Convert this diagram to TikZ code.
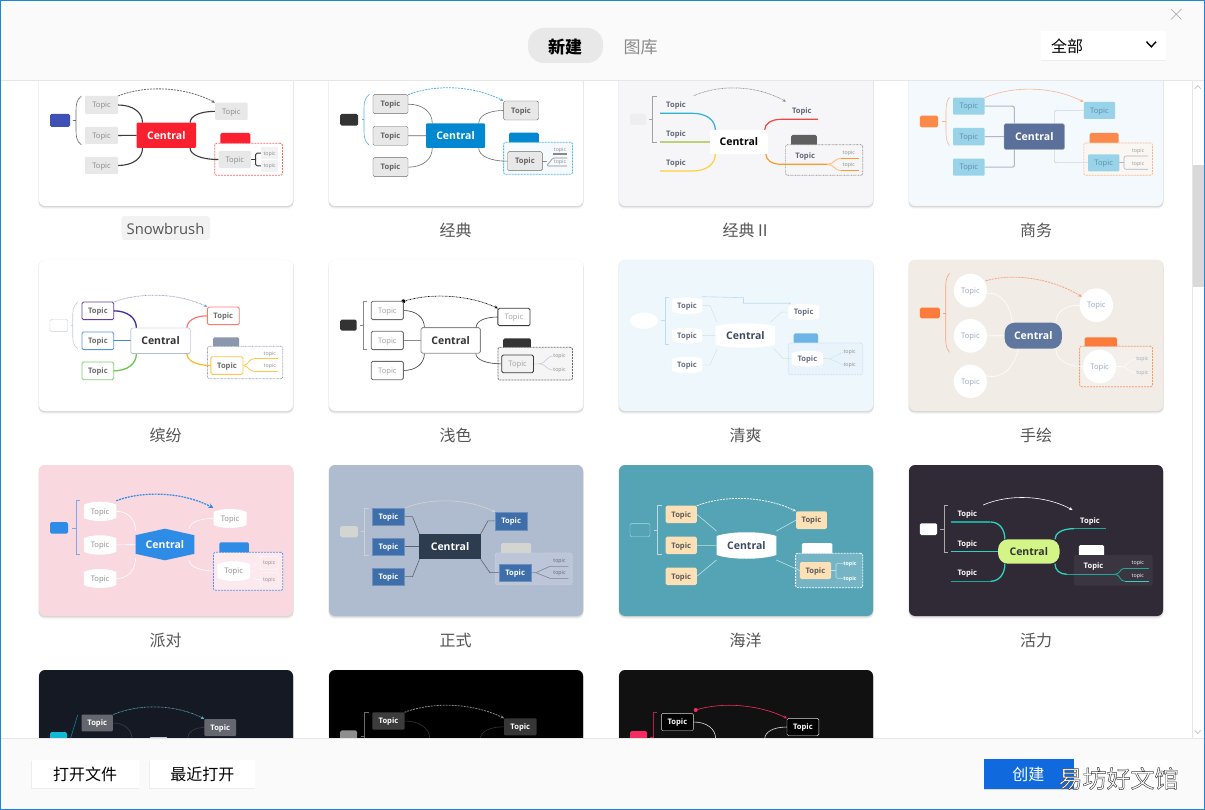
\documentclass[tikz,border=0pt]{standalone}
\usepackage{fontspec}
\setmainfont{Open Sans}
\newfontfamily\cjk{Noto Sans CJK SC}
\newfontfamily\wmfont[FakeBold=2]{Noto Sans CJK SC}
\usetikzlibrary{calc,arrows.meta,shapes.geometric}
\pgfdeclarelayer{card}\pgfdeclarelayer{conn}\pgfdeclarelayer{chrome}
\pgfsetlayers{card,conn,main,chrome}
\newcommand\dc[2]{\definecolor{#1}{HTML}{#2}}
\dc{F6F6F8}{F6F6F8}\dc{5F5F5F}{5F5F5F}\dc{FAF6F2}{FAF6F2}\dc{F5F5F5}{F5F5F5}\dc{F79A66}{F79A66}\dc{6F8FBD}{6F8FBD}\dc{EEEEEE}{EEEEEE}\dc{F2F2F2}{F2F2F2}
\dc{win}{1E86D6}\dc{chr}{FAFAFA}\dc{rule}{E6E6E6}\dc{lbl}{555555}
\dc{red}{FB2030}\dc{ind}{3F51B5}\dc{gE}{E8E8E8}\dc{g8}{8A8A8A}\dc{dk}{333333}\dc{g3}{3A3A3A}
\dc{blu}{0288D1}\dc{lbl2}{55B0E8}\dc{g6}{6B6B6B}\dc{pale}{F5FAFF}
\dc{tx}{5F6678}\dc{teal}{2AB3D6}\dc{oli}{BCD07A}\dc{yel}{FFCD3E}\dc{rd2}{EE4545}\dc{org}{FD9A2A}\dc{lorg}{FDC383}
\dc{oc}{FB8A4A}\dc{ol}{F9B48F}\dc{sky}{98D3EA}\dc{nav}{5A6F9A}\dc{gb}{ADB7CA}\dc{bgd}{F4F9FD}\dc{skt}{5E8CA8}
\dc{pur}{5E3FA8}\dc{pu2}{3D2FA0}\dc{bl2}{5C94E0}\dc{bl3}{3F86E0}\dc{grn}{7FD16F}\dc{gr2}{6CC54F}\dc{sal}{FA7A70}\dc{yl2}{FFC64A}\dc{yl3}{FFB829}\dc{sl}{8D9BB5}\dc{sl2}{8A97AD}\dc{lg}{C5CCD8}
\dc{bgf}{EEF7FB}\dc{fb}{BCDCF0}\dc{fc}{CFE1E8}\dc{ftx}{666E80}\dc{fct}{3D4A63}\dc{fl}{6CB5E6}\dc{fbd}{E9F3FB}\dc{fbl}{CBE2F3}
\dc{bgh}{F1ECE6}\dc{ho}{FB7B3C}\dc{hl}{F9A27A}\dc{hn}{5F769F}\dc{htx}{9AA8C0}\dc{hb}{F4EFEA}
\dc{bgp}{F9D8DF}\dc{pb}{2E8BE6}\dc{pbl}{7EA6E8}\dc{ptx}{8C8C8C}\dc{pbd}{FBE9EE}\dc{pdash}{5B93E4}
\dc{bgj}{AFBBCE}\dc{jsd}{D3D5D1}\dc{jbr}{CCD2D8}\dc{jt}{3E6FAB}\dc{jc}{2E3C4F}\dc{jbd}{BCC6D8}\dc{jd}{C8D0DC}\dc{jl}{5A6475}\dc{jl2}{7A8596}
\dc{bgk}{54A4B6}\dc{kb}{B8DBE3}\dc{kt}{FDE0B5}\dc{ktx}{5A5A5A}\dc{kbd}{74B4C4}\dc{kl}{C5E0E6}
\dc{bgl}{302A36}\dc{lg2}{AAAAAA}\dc{lt}{2FD4BD}\dc{lt2}{1FA897}\dc{lime}{D3F587}\dc{lbd}{3A3540}
\dc{bgm}{151924}\dc{mt}{65676F}\dc{mc}{3A3E4A}\dc{mb}{0FB8D4}\dc{mtl}{127F96}\dc{mr}{5FB0C0}
\dc{n3}{3C3C3C}\dc{n2}{363636}\dc{n8}{8E8E8E}\dc{nl}{333333}
\dc{bgo}{111111}\dc{pink}{F72B62}\dc{pk2}{B0234F}\dc{ol2}{DDDDDD}
\dc{btn}{1169DE}\dc{pill}{E8E8E8}\dc{thumb}{D9D9D9}\dc{ss}{F2F2F2}\dc{arrowc}{BBBBBB}

\newcommand\ftp{\fontsize{7.6}{8}\selectfont}
\newcommand\ftb{\fontsize{7.6}{8}\selectfont\bfseries}
\newcommand\fsb{\fontsize{5.3}{6}\selectfont}
\newcommand\fct{\fontsize{10.5}{12}\selectfont\bfseries}
\newcommand\flb{\fontsize{16}{18}\selectfont\cjk}

\tikzset{
  tp/.style={inner sep=0,outer sep=0,font=\ftp,text height=6pt,text depth=.6pt},
  tb/.style={inner sep=0,outer sep=0,font=\ftb,text height=6pt,text depth=.6pt},
  sb/.style={inner sep=0,outer sep=0,font=\fsb,text height=4.2pt,text depth=.4pt},
  ctr/.style={inner sep=0,outer sep=0,font=\fct},
  dsh/.style={dash pattern=on 2pt off 1pt,line width=.8pt},
  dtt/.style={dash pattern=on .7pt off .7pt,line width=.7pt},
  arw/.style={-{Stealth[length=3.5pt,width=3pt]}},
  lbltxt/.style={inner sep=0,font=\flb,text=lbl},
  chbtn/.style={fill=white,inner sep=0},
}
% box from corners
\newcommand\Bx[7]{\node[#1,inner sep=0,outer sep=0,minimum width={(#5-#3)*1pt},minimum height={(#6-#4)*1pt}] (#2) at ({(#3+#5)/2},{(#4+#6)/2}) {#7};}
% barrel-shaped box
\newcommand\Barrel[8]{%
  \path[fill=#7] ({#3},{#4+#8}) .. controls ({#3*.75+#5*.25},#4) and ({#3*.25+#5*.75},#4) .. ({#5},{#4+#8})
     -- ({#5},{#6-#8}) .. controls ({#3*.25+#5*.75},#6) and ({#3*.75+#5*.25},#6) .. ({#3},{#6-#8}) -- cycle;
  \Bx{#1}{#2}{#3}{#4}{#5}{#6}}
% hexagon-shaped box
\newcommand\Hexa[8]{%
  \path[fill=#7] ({#3},{#4+#8}) -- ({(#3+#5)/2},#4) -- ({#5},{#4+#8}) -- ({#5},{#6-#8}) -- ({(#3+#5)/2},#6) -- ({#3},{#6-#8}) -- cycle;
  \Bx{#1}{#2}{#3}{#4}{#5}{#6}}
\newcommand\hvc[2]{(#1) .. controls ($(#1)!.6!(#1 -| #2)$) and ($(#2)!.6!(#2 |- #1)$) .. (#2)}
\newcommand\scv[2]{(#1) .. controls ($(#1)!.5!(#1 -| #2)$) and ($(#2)!.5!(#2 -| #1)$) .. (#2)}
\newcommand\Rel[4]{\draw[#1] (#2) .. controls ($(#2)!.3!(#3)+(0,-#4)$) and ($(#2)!.7!(#3)+(0,-#4)$) .. (#3);}
% square bracket: style,x,xend,ytop,ybot,xtick,ymid
\newcommand\SqBr[7]{\draw[#1] (#3,#4) -- (#2,#4) -- (#2,#5) -- (#3,#5); \draw[#1] (#6,#7) -- (#2,#7);}
% round bracket
\newcommand\PaBr[7]{\draw[#1] (#3,#4) .. controls (#2,{#4+4}) and (#2,{#4+10}) .. (#2,{#4+16}) -- (#2,{#5-16}) .. controls (#2,{#5-10}) and (#2,{#5-4}) .. (#3,#5); \draw[#1] (#6,#7) -- (#2,#7);}
% card background with soft shadow
\newcommand\CardBg[4]{%
  \foreach \sh/\op in {3/.03,2/.05,1/.08}{\path[fill=black,opacity=\op,rounded corners=6pt] ({#1-.5},{#2+\sh-1}) rectangle ({#1+254.5},{#2+151+\sh});}
  \node[fill=#3,inner sep=0,outer sep=0,rounded corners=6pt,minimum width=254pt,minimum height=151pt] (#4) at ({#1+127},{#2+75.5}) {};}

\begin{document}
\begin{tikzpicture}[x=1pt,y=-1pt]
\useasboundingbox (0,0) rectangle (1205,810);
\begin{pgfonlayer}{card}
\fill[white] (0,0) rectangle (1205,810);
\CardBg{39}{55}{white}{ca}\CardBg{329}{55}{white}{cb}\CardBg{619}{55}{F6F6F8}{cc}\CardBg{909}{55}{bgd}{cd}
\CardBg{39}{260}{white}{ce}\CardBg{329}{260}{white}{cf}\CardBg{619}{260}{bgf}{cg}\CardBg{909}{260}{bgh}{ch}
\CardBg{39}{465}{bgp}{ci}\CardBg{329}{465}{bgj}{cj}\CardBg{619}{465}{bgk}{ck}\CardBg{909}{465}{bgl}{cl}
\CardBg{39}{670}{bgm}{cm}\CardBg{329}{670}{black}{cn}\CardBg{619}{670}{bgo}{co}
% flags and boundaries
\Bx{fill=red,rounded corners=1.5pt}{af}{220.4}{133}{250.3}{146}{}
\Bx{fill=white,draw=red!70,dsh,rounded corners=2pt}{ab}{214.7}{143.3}{282.4}{175.3}{}
\Bx{fill=blu,rounded corners=1.5pt}{bf}{509}{132.7}{538.8}{146}{}
\Bx{fill=pale,draw=lbl2,dsh,rounded corners=2pt}{bb}{503.6}{142.3}{572.5}{174.3}{}
\Bx{fill=5F5F5F,rounded corners=1.5pt}{xcf}{791}{135}{816.8}{148}{}
\Bx{fill=F6F6F8,draw=g8,dtt,rounded corners=2pt}{xcb}{785.6}{144.7}{862.7}{175.3}{}
\Bx{fill=oc,rounded corners=1.5pt}{df}{1089.6}{133}{1118.5}{146}{}
\Bx{fill=FAF6F2,draw=ol,dsh,semithick,rounded corners=2pt}{db}{1083.8}{143}{1152.5}{175.3}{}
\Bx{fill=sl2,rounded corners=1.5pt}{ef}{213}{337.3}{239.2}{350}{}
\Bx{fill=white,draw=sl,dtt,rounded corners=2pt}{eb}{207.4}{346.3}{282.8}{378.7}{}
\Bx{fill=dk,rounded corners=1.5pt}{ff}{503.2}{338.3}{530.8}{351}{}
\Bx{fill=F5F5F5,draw=g6,dsh,rounded corners=2pt}{fb}{497.9}{347.3}{572.5}{380}{}
\Bx{fill=fl,rounded corners=1.5pt}{gf}{793.7}{333.3}{818}{346}{}
\Bx{fill=fbd,draw=fbl,dsh,rounded corners=2pt}{gb}{788.3}{343}{862.7}{374.7}{}
\Bx{fill=ho,rounded corners=1.5pt}{hf}{1084.6}{337.3}{1117}{350}{}
\Bx{fill=hb,draw=F79A66,dsh,rounded corners=2pt}{hb2}{1079.6}{346.3}{1152.5}{386.7}{}
\Bx{fill=pb,rounded corners=1.5pt}{if}{219.3}{542.3}{248.8}{556}{}
\Bx{fill=pbd,draw=pdash,dsh,rounded corners=2pt}{ib}{213.5}{552.3}{282.8}{590.3}{}
\Bx{fill=jsd,rounded corners=1.5pt}{jf}{501}{543}{531.2}{556}{}
\Bx{fill=jbd,draw=jd,dsh,rounded corners=2pt}{jb}{495.2}{553}{572.1}{584.7}{}
\Bx{fill=white,rounded corners=1.5pt}{kf}{801.8}{543}{832.3}{556}{}
\Bx{fill=kbd,draw=white,dsh,rounded corners=2pt}{kb2}{795.6}{553.3}{862.7}{587.7}{}
\Bx{fill=white,rounded corners=1.5pt}{lf}{1078.8}{545}{1104.2}{557}{}
\Bx{fill=lbd,rounded corners=2pt}{lb2}{1073.8}{555}{1152.5}{585.7}{}
\end{pgfonlayer}

% ---------- Snowbrush
\begin{scope}[T/.style={tp,fill=gE,text=g8,rounded corners=1pt}]
\Bx{fill=ind,rounded corners=1.5pt}{as}{50}{114}{70}{127}{}
\Bx{T}{a1}{85}{96}{118}{114}{Topic}\Bx{T}{a2}{85}{127}{118}{144}{Topic}\Bx{T}{a3}{85}{157}{118}{174}{Topic}
\Bx{ctr,fill=red,text=white,rounded corners=1pt}{ac}{136.6}{122.7}{196}{148}{Central}
\Bx{T}{ar}{215}{102.7}{247.6}{120}{Topic}\Bx{T}{aq}{218.5}{151}{251}{168}{Topic}
\Bx{sb,fill=ss,text=g8}{au}{261.4}{147}{277.8}{159.3}{topic}\Bx{sb,fill=ss,text=g8}{av}{261.4}{160}{277.8}{171.7}{topic}
\coordinate (aj) at (255.6,159.5);
\begin{pgfonlayer}{conn}
\PaBr{g6,semithick}{76}{81.5}{96}{145}{72.5}{120.5}
\draw[g3,line width=1.1pt] \hvc{a1.east}{ac.152}; \draw[g3,line width=1.1pt] (a2)--(ac); \draw[g3,line width=1.1pt] \hvc{a3.east}{ac.208};
\draw[g3,line width=1.1pt] \hvc{ar.west}{ac.28}; \draw[g3,line width=1.1pt] \hvc{aq.west}{ac.332};
\draw[g3,line width=.9pt] (aq.east)--(aj); \draw[g3,line width=.9pt,rounded corners=1.5pt] (au.west) -| (aj) |- (av.west);
\Rel{g6,dsh,arw}{a1.north east}{ar.north west}{13.5}
\end{pgfonlayer}
\end{scope}

% ---------- Classic
\begin{scope}[T/.style={tb,fill=gE,draw=g6,text=g3!80,rounded corners=1.5pt}]
\Bx{fill=dk,rounded corners=1.5pt}{bs}{340.2}{114}{358.2}{125.7}{}
\Bx{T}{b1}{373}{94.7}{408}{113.7}{Topic}\Bx{T}{b2}{373}{126.3}{408}{145.3}{Topic}\Bx{T}{b3}{373}{157.7}{408}{176.7}{Topic}
\Bx{ctr,fill=blu,text=white,rounded corners=1pt}{bc}{426}{123.3}{485}{148}{Central}
\Bx{T}{br}{503.6}{101}{538.5}{120}{Topic}\Bx{T}{bq}{507.5}{151.7}{542.3}{170.7}{Topic}
\Bx{sb,text=g8}{bu}{553}{146}{567}{154}{topic}\Bx{sb,text=g8}{bv}{553}{158}{567}{166}{topic}
\coordinate (bj) at (546.5,161.2);
\begin{pgfonlayer}{conn}
\PaBr{lbl2,semithick}{364}{369.3}{94.3}{145.3}{362}{119.8}
\draw[g6,semithick] \hvc{b1.east}{bc.152}; \draw[g6,semithick] (b2)--(bc); \draw[g6,semithick] \hvc{b3.east}{bc.208};
\draw[g6,semithick] \hvc{br.west}{bc.28}; \draw[g6,semithick] \hvc{bq.west}{bc.332};
\draw[g8,line width=1.1pt] (bq.east)--(bj); \draw[g8,line width=1.1pt] (bu.south west)--(bu.south east);
\draw[g8,semithick,rounded corners=1.5pt] (bv.north east) -- (bv.north west) -- (bj |- bv.south) -- (bv.south east);
\Rel{lbl2,dsh,arw}{b1.north east}{br.north west}{13}
\end{pgfonlayer}
\end{scope}

% ---------- Classic II
\begin{scope}[T/.style={tb,text=tx}]
\Bx{fill=EEEEEE,rounded corners=1.5pt}{xs}{630}{114}{646}{125}{}
\node[T] (x1) at (676,104.7) {Topic}; \node[T] (x2) at (676,133.7) {Topic}; \node[T] (x3) at (676,162.7) {Topic};
\Bx{ctr,fill=white,text=black,rounded corners=1pt}{xc}{710}{130}{767.8}{154}{Central}
\node[T] (xr) at (801.8,110.7) {Topic}; \node[T] (xq) at (805.2,155.7) {Topic};
\node[sb,text=g8] (xu) at (848.8,153) {topic}; \node[sb,text=g8] (xv) at (848.8,165) {topic};
\coordinate (xa1) at (660,113.3);\coordinate (xb1) at (692.6,113.3);
\coordinate (xa2) at (660,142);\coordinate (xa3) at (660,171);\coordinate (xb3) at (692.6,171);
\coordinate (xe1) at (818,119.3);\coordinate (xd1) at (781.3,119.3);
\coordinate (xd2) at (781,164.3);\coordinate (xe2) at (827.6,164.3);
\coordinate (xf1) at (841,158.3);\coordinate (xg1) at (858.5,158.3);\coordinate (xf2) at (841,170.7);\coordinate (xg2) at (858.5,170.7);
\coordinate (xrel1) at (693.8,95.7);\coordinate (xrel2) at (786,101.7);
\begin{pgfonlayer}{conn}
\SqBr{g8!80,semithick}{652}{656.7}{96}{142.7}{649.4}{119.5}
\draw[teal,line width=1.2pt] (xa1)--\hvc{xb1}{xc.153};
\draw[oli,line width=1.2pt] (xa2)--(xc.west |- xa2);
\draw[yel,line width=1.2pt] (xa3)--\hvc{xb3}{xc.207};
\draw[rd2,line width=1.2pt] (xe1)--\hvc{xd1}{xc.25};
\draw[org,line width=1.2pt] (xe2)--\hvc{xd2}{xc.336};
\draw[lorg,line width=1pt] \scv{xe2}{xf1}; \draw[lorg,line width=1pt] \scv{xe2}{xf2};
\draw[org] (xf1)--(xg1); \draw[org] (xf2)--(xg2);
\Rel{g8,dtt,arw}{xrel1}{xrel2}{14}
\end{pgfonlayer}
\end{scope}

% ---------- Business
\begin{scope}[T/.style={tp,fill=sky,text=skt,rounded corners=1pt}]
\Bx{fill=oc,rounded corners=1.5pt}{ds}{919.8}{115.7}{938}{127.3}{}
\Bx{T}{d1}{953}{97.7}{984.6}{114.7}{Topic}\Bx{T}{d2}{953}{128}{984.6}{145.3}{Topic}\Bx{T}{d3}{953}{158.7}{984.6}{175.7}{Topic}
\Bx{ctr,fill=nav,draw=gb,text=white,rounded corners=1.5pt}{dc}{1004}{123.7}{1064.5}{149.7}{Central}
\Bx{T}{dr}{1083.8}{102}{1115}{119}{Topic}\Bx{T}{dq}{1088}{154.3}{1119.3}{171.3}{Topic}
\node[sb,text=g8!90] (du) at (1138.2,150.7) {topic}; \node[sb,text=g8!90] (dv) at (1138.2,164) {topic};
\coordinate (dj1) at (1014.4,123.7);\coordinate (dj2) at (1014.4,149.7);\coordinate (dj3) at (1054.5,123.7);\coordinate (dj4) at (1054.5,149.7);
\coordinate (dk1) at (1124,162.8);\coordinate (dk2) at (1148,156);\coordinate (dk3) at (1148,169.3);
\begin{pgfonlayer}{conn}
\PaBr{ol,semithick}{946}{949.5}{97.3}{145.7}{941.8}{121.5}
\draw[gb,line width=1.1pt,rounded corners=2pt] (d1.east) -| (dj1);
\draw[gb,line width=1.1pt] (d2)--(dc);
\draw[gb,line width=1.1pt,rounded corners=2pt] (d3.east) -| (dj2);
\draw[gb,rounded corners=2pt] (dr.west) -| (dj3);
\draw[gb,rounded corners=2pt] (dq.west) -| (dj4);
\draw[gb,semithick] (dq.east)--(dk1);
\draw[gb,semithick,rounded corners=2pt] (dk2) -| (dk1) |- (dk3);
\Rel{ol,semithick,arw}{d1.north east}{dr.north west}{14}
\end{pgfonlayer}
\end{scope}

% ---------- Colourful
\begin{scope}[T/.style={tb,fill=white,text=g6,line width=.9pt,rounded corners=1.5pt}]
\Bx{fill=white,draw=lg,rounded corners=1.5pt}{es}{50}{319.3}{67.7}{331.7}{}
\Bx{T,draw=pur}{e1}{82}{302}{113.7}{319.7}{Topic}\Bx{T,draw=bl2}{e2}{82}{332}{113.7}{349.7}{Topic}\Bx{T,draw=grn}{e3}{82}{362}{113.7}{379.7}{Topic}
\Bx{ctr,fill=white,draw=sl,text=dk,rounded corners=1.5pt}{ec}{130.9}{328}{190.2}{353.7}{Central}
\Bx{T,draw=sal}{er}{207.4}{307}{239.2}{324.7}{Topic}\Bx{T,draw=yl2}{eq}{210.9}{356.7}{243}{374.3}{Topic}
\node[sb,text=g8] (eu) at (269.8,354) {topic}; \node[sb,text=g8] (ev) at (269.8,366) {topic};
\coordinate (ef1) at (254,358.7);\coordinate (eg1) at (278,358.7);\coordinate (ef2) at (254,371.3);\coordinate (eg2) at (278,371.3);
\begin{pgfonlayer}{conn}
\PaBr{lg,semithick}{72.7}{78}{301.7}{349.3}{70.8}{325.5}
\draw[pu2,line width=1.3pt] \hvc{e1.east}{ec.152}; \draw[bl3,line width=1.1pt] (e2)--(ec); \draw[gr2,line width=1.3pt] \hvc{e3.east}{ec.208};
\draw[sal,line width=1.2pt] \hvc{er.west}{ec.26}; \draw[yl3,line width=1.2pt] \hvc{eq.west}{ec.334};
\draw[yl2,line width=.8pt] \scv{eq.east}{ef1}; \draw[yl2,line width=.8pt] \scv{eq.east}{ef2}; \draw[yl2,line width=1pt] (ef1)--(eg1); \draw[yl2,line width=1pt] (ef2)--(eg2);
\Rel{sl,dtt,arw}{e1.north east}{er.north west}{12}
\end{pgfonlayer}
\end{scope}

% ---------- Light
\begin{scope}[T/.style={tp,fill=white,text=g8!80,draw=g6,line width=.9pt,rounded corners=1.5pt}]
\Bx{fill=dk,rounded corners=1.5pt}{fs}{340.2}{319.7}{356.7}{330.7}{}
\Bx{T}{f1}{371.2}{301.3}{403.4}{319.7}{Topic}\Bx{T}{f2}{371.2}{331.3}{403.4}{349.7}{Topic}\Bx{T}{f3}{371.2}{361.3}{403.4}{379.7}{Topic}
\Bx{ctr,fill=white,draw=g8,text=dk,line width=.9pt,rounded corners=1.5pt}{fc}{421}{327.7}{480.3}{353.3}{Central}
\Bx{T,draw=g3}{fr}{497.9}{308.3}{530}{325.7}{Topic}\Bx{T,draw=g3,fill=F2F2F2}{fq}{501.7}{355}{533.5}{372.7}{Topic}
\node[sb,text=g8] (fu) at (559.5,356) {topic}; \node[sb,text=g8] (fv) at (559.5,370) {topic};
\coordinate (fj) at (538.8,363.8);
\begin{pgfonlayer}{conn}
\SqBr{g8,semithick}{363.6}{367.4}{301}{349.3}{360}{325.2}
\draw[g3,semithick] \hvc{f1.east}{fc.154}; \draw[g8,line width=1.1pt] (f2)--(fc); \draw[g3,semithick] \hvc{f3.east}{fc.206};
\draw[g3,semithick] \hvc{fr.west}{fc.27}; \draw[g3,semithick] \hvc{fq.west}{fc.333};
\draw[lg,semithick] (fq.east)--(fj); \draw[lg,semithick] \scv{fj}{fu.west}; \draw[lg,semithick] \scv{fj}{fv.west};
\fill[black] (f1.north east) circle (2);
\Rel{black,dtt,arw}{f1.north east}{fr.north west}{11}
\end{pgfonlayer}
\end{scope}

% ---------- Fresh
\begin{scope}[T/.style={tb,text=ftx}]
\node[ellipse,fill=white,inner sep=0,minimum width=28pt,minimum height=16pt] (gs) at (644,320.7) {};
\Barrel{T}{g1}{671.8}{296.7}{702.2}{314.7}{white}{3}{Topic}
\Barrel{T}{g2}{671.8}{327}{702.2}{344.3}{white}{3}{Topic}
\Barrel{T}{g3n}{671.8}{356}{702.2}{374}{white}{3}{Topic}
\Barrel{ctr,text=fct}{gc}{715.7}{322.3}{775.2}{348.7}{white}{4}{Central}
\Barrel{T}{gr}{788.3}{303.3}{819}{321}{white}{3}{Topic}
\Barrel{T}{gq}{791.7}{350}{823}{367.3}{white}{3}{Topic}
\node[sb,text=g8] (gu) at (849.6,352) {topic}; \node[sb,text=g8] (gv) at (849.6,365) {topic};
\coordinate (gk1) at (710,305.7);\coordinate (gk3) at (710,365);\coordinate (gk4) at (781.3,312.2);\coordinate (gk5) at (783.3,358.7);\coordinate (gk6) at (829.6,358.7);
\coordinate (gm1) at (743.5,297.7);\coordinate (gm2) at (743.5,303.3);\coordinate (gm3) at (791,303.3);
\begin{pgfonlayer}{conn}
\SqBr{fb,semithick}{664.8}{668.7}{297}{344.3}{661}{320.7}
\draw[fc] (g1.east)--(gk1)--(gc.155); \draw[fc] (g2)--(gc); \draw[fc] (g3n.east)--(gk3)--(gc.205);
\draw[fc] (gr.west)--(gk4)--(gc.28); \draw[fc] (gq.west)--(gk5)--(gc.335);
\draw[fc] (gq.east)--(gk6)--(gu.west); \draw[fc] (gk6)--(gv.west);
\draw[fb,semithick,-{Stealth[length=2.5pt,width=2.5pt]}] (g1.north east)--(gm1)--(gm2)--(gm3);
\end{pgfonlayer}
\end{scope}

% ---------- Hand-drawn
\begin{scope}[T/.style={tp,text=htx,fill=white,ellipse}]
\Bx{fill=ho,rounded corners=1.5pt}{hs}{919.8}{307.7}{939.9}{318.3}{}
\Bx{T}{h1}{953.8}{273.7}{987}{307.3}{Topic}\Bx{T}{h2}{953.8}{319}{987}{352.7}{Topic}\Bx{T}{h3}{953.8}{364.7}{987}{398}{Topic}
\Bx{ctr,fill=hn,text=white,rounded corners=10pt}{hc}{1004.7}{322.7}{1061.8}{348.7}{Central}
\Bx{T}{hr}{1079.6}{288.3}{1113}{322}{Topic}\Bx{T}{hq}{1083}{349.7}{1116.2}{383.3}{Topic}
\node[sb,text=htx] (hu) at (1142.4,359) {topic}; \node[sb,text=htx] (hv) at (1142.4,373) {topic};
\coordinate (hj) at (1120.5,366.5);\coordinate (hrel) at (985.8,280.7);
\begin{pgfonlayer}{conn}
\PaBr{hl,semithick}{945.7}{949.5}{273.3}{352.3}{943}{313}
\draw[white,semithick] (h1.350) .. controls (1002,292) and (1010,305) .. (hc.148);
\draw[white,semithick] (h2)--(hc);
\draw[white,semithick] (h3.20) .. controls (1002,380) and (1014,368) .. (hc.221);
\draw[white,semithick] \hvc{hr.west}{hc.30}; \draw[white,semithick] \hvc{hq.west}{hc.330};
\draw[white] (hq.east)--(hj); \draw[white] \scv{hj}{hu.west}; \draw[white] \scv{hj}{hv.west};
\Rel{hl,dsh,arw}{hrel}{hr.150}{13}
\end{pgfonlayer}
\end{scope}

% ---------- Party
\begin{scope}[T/.style={tp,text=ptx}]
\Bx{fill=pb,rounded corners=1.5pt}{is}{50}{522}{68}{533.7}{}
\Barrel{T}{i1}{83.8}{500.7}{116.3}{522}{white}{4}{Topic}
\Barrel{T}{i2}{83.8}{534.3}{116.3}{555.7}{white}{4}{Topic}
\Barrel{T}{i3}{83.8}{568}{116.3}{589}{white}{4}{Topic}
\Hexa{ctr,text=white}{ic}{135.5}{528.7}{194.4}{560.3}{pb}{6.5}{Central}
\Barrel{T}{ir}{213.5}{508}{246.5}{529}{white}{4}{Topic}
\Barrel{T}{iq}{217.4}{560.3}{250}{582}{white}{4}{Topic}
\Bx{sb,text=ptx,draw=white,rounded corners=1.5pt}{iu}{260.2}{556.3}{278.2}{569.7}{topic}
\Bx{sb,text=ptx,draw=white,rounded corners=1.5pt}{iv}{260.2}{572.7}{278.2}{586}{topic}
\coordinate (ij) at (255,571);
\begin{pgfonlayer}{conn}
\SqBr{pbl,semithick}{75.8}{79.6}{500.3}{554.7}{72}{527.8}
\draw[white,semithick] \hvc{i1.east}{ic.155}; \draw[white,semithick] (i2)--(ic); \draw[white,semithick] \hvc{i3.east}{ic.205};
\draw[white,semithick] \hvc{ir.west}{ic.33}; \draw[white,semithick] \hvc{iq.west}{ic.327};
\draw[white] (iq.east)--(ij); \draw[white,rounded corners=1.5pt] (iu.west) -| (ij) |- (iv.west);
\Rel{pb,dsh,line width=1.2pt,-{Stealth[length=5pt,width=5pt]}}{i1.north east}{ir.north west}{13}
\end{pgfonlayer}
\end{scope}

% ---------- Formal
\begin{scope}[T/.style={tb,fill=jt,text=white,draw=6F8FBD}]
\Bx{fill=jsd,rounded corners=1.5pt}{js}{340.2}{526}{357.8}{537.3}{}
\Bx{T}{j1}{372.4}{508}{404.5}{525.3}{Topic}\Bx{T}{j2}{372.4}{538}{404.5}{555.3}{Topic}\Bx{T}{j3}{372.4}{568}{404.5}{585.3}{Topic}
\Bx{ctr,fill=jc,text=white}{jc2}{419.4}{534}{480.7}{559.3}{Central}
\Bx{T}{jr}{495.2}{512}{527}{529.7}{Topic}\Bx{T}{jq}{499}{564}{531.2}{581.3}{Topic}
\node[sb,text=jl] (ju) at (559.5,561) {topic}; \node[sb,text=jl] (jv) at (559.5,573) {topic};
\coordinate (jk1) at (412.5,516.7);\coordinate (jk3) at (412.5,576.7);\coordinate (jk4) at (488,520.8);\coordinate (jk5) at (489.9,572.7);
\coordinate (jn) at (535.8,572.7);\coordinate (jf1) at (550,566.3);\coordinate (jg1) at (568.3,566.3);\coordinate (jf2) at (550,578.3);\coordinate (jg2) at (568.3,578.3);
\begin{pgfonlayer}{conn}
\SqBr{jbr,semithick}{364.7}{369.3}{508}{555.3}{361}{531.7}
\draw[jl,semithick] (j1.east)--(jk1)--(jc2.north west); \draw[jl,semithick] (j2)--(jc2); \draw[jl,semithick] (j3.east)--(jk3)--(jc2.south west);
\draw[jl,semithick] (jr.west)--(jk4)--(jc2.north east); \draw[jl,semithick] (jq.west)--(jk5)--(jc2.south east);
\draw[jl2,semithick] (jq.east)--(jn)--(jf1)--(jg1); \draw[jl2,semithick] (jn)--(jf2)--(jg2);
\Rel{jsd,semithick,arw}{j1.north east}{jr.north west}{12}
\end{pgfonlayer}
\end{scope}

% ---------- Ocean
\begin{scope}[T/.style={tb,fill=kt,text=ktx,rounded corners=1.5pt}]
\Bx{draw=kb,rounded corners=2pt}{ks}{630}{523.3}{650}{536.7}{}
\Bx{T}{k1}{665.6}{505.7}{696.8}{523}{Topic}\Bx{T}{k2}{665.6}{536.7}{696.8}{554}{Topic}\Bx{T}{k3}{665.6}{567.7}{696.8}{585}{Topic}
\Barrel{ctr,text=fct}{kc}{716.5}{531}{776.3}{560}{white}{5}{Central}
\Bx{T}{kr}{796}{511.3}{826.9}{529}{Topic}\Bx{T}{kq}{799.8}{562}{831}{579}{Topic}
\node[sb,text=white,font=\fsb\bfseries] (ku) at (850,563.3) {topic}; \node[sb,text=white,font=\fsb\bfseries] (kv) at (850,578.3) {topic};
\coordinate (kj) at (836,570.5);
\begin{pgfonlayer}{conn}
\SqBr{kb,semithick}{657}{661.7}{505.3}{554.7}{654}{530}
\draw[kl,semithick] (k1.east)--(kc.north west); \draw[kl,semithick] (k2)--(kc); \draw[kl,semithick] (k3.east)--(kc.south west);
\draw[kl,semithick] (kr.west)--(kc.north east); \draw[kl,semithick] (kq.west)--(kc.south east);
\draw[kl,semithick] (kq.east)--(kj); \draw[kl,semithick,rounded corners=1.5pt] (ku.west) -| (kj) |- (kv.west);
\Rel{white,dsh,arw}{k1.north east}{kr.north west}{13}
\end{pgfonlayer}
\end{scope}

% ---------- Vitality
\begin{scope}[T/.style={tb,text=white}]
\Bx{fill=white,rounded corners=1.5pt}{ls}{919.8}{523.3}{937.2}{535}{}
\node[T] (l1) at (967.3,513.7) {Topic}; \node[T] (l2) at (967.3,543.7) {Topic}; \node[T] (l3) at (967.3,572.7) {Topic};
\Bx{ctr,fill=lime,text=dk,rounded corners=10pt}{lc}{998.1}{539.3}{1059.5}{563.7}{Central}
\node[T] (lr) at (1090,520.7) {Topic}; \node[T] (lq) at (1093.5,565.7) {Topic};
\node[sb,text=white] (lu) at (1137.8,563) {topic}; \node[sb,text=white] (lv) at (1137.8,576) {topic};
\coordinate (la1) at (951,522);\coordinate (lb1) at (990.4,522);\coordinate (la2) at (951,551.7);\coordinate (la3) at (951,581.3);\coordinate (lb3) at (990.4,581.3);
\coordinate (le1) at (1106,528.7);\coordinate (ld1) at (1073.8,528.7);\coordinate (ld2) at (1066.8,574.3);\coordinate (le2) at (1115,574.3);
\coordinate (lf1) at (1124.7,568.3);\coordinate (lg1) at (1148.6,568.3);\coordinate (lf2) at (1124.7,581.3);\coordinate (lg2) at (1148.6,581.3);
\coordinate (lrel1) at (983.1,505);\coordinate (lrel2) at (1072.6,510);
\begin{pgfonlayer}{conn}
\SqBr{lg2,semithick}{943.8}{948}{505.3}{552.7}{940.3}{529.2}
\draw[lt2,line width=1.2pt] (la1)--(lb1); \draw[lt,line width=1.3pt] \hvc{lb1}{lc.153};
\draw[lt,line width=1.2pt] (la2)--(lc.west |- la2);
\draw[lt2,line width=1.2pt] (la3)--(lb3); \draw[lt,line width=1.3pt] \hvc{lb3}{lc.207};
\draw[lt2,line width=1.2pt] (le1)--(ld1); \draw[lt,line width=1.3pt] \hvc{ld1}{lc.25};
\draw[lt2,line width=1.2pt] (le2)--(ld2); \draw[lt,line width=1.3pt] \hvc{ld2}{lc.335};
\draw[lt2,line width=.9pt] \scv{le2}{lf1}; \draw[lt2,line width=.9pt] \scv{le2}{lf2};
\draw[lt2,line width=1pt] (lf1)--(lg1); \draw[lt,line width=1pt] (lf2)--(lg2);
\Rel{white,semithick,arw}{lrel1}{lrel2}{13}
\end{pgfonlayer}
\end{scope}

% ---------- Row 4
\Bx{fill=mb,rounded corners=1.5pt}{ms}{50}{732}{67}{745}{}
\Bx{tb,fill=mt,text=white,rounded corners=1pt}{m1}{81.5}{714.7}{112.9}{731.3}{Topic}
\Bx{tb,fill=mt,text=white,rounded corners=1pt}{mr2}{204.4}{719}{236}{736}{Topic}
\Bx{fill=lg,rounded corners=1.5pt}{mc2}{149}{737}{168}{746}{}
\coordinate (mj1) at (132,739);\coordinate (mj2) at (187.5,739);\coordinate (mp1) at (77.7,715);\coordinate (mp2) at (70,740);
\begin{pgfonlayer}{conn}
\draw[mtl,semithick] (mp1)--(mp2);
\draw[mc,semithick] \hvc{m1.east}{mj1}; \draw[mc,semithick] \hvc{mr2.west}{mj2};
\Rel{mr,dtt,arw}{m1.north east}{mr2.north west}{13}
\end{pgfonlayer}

\Bx{fill=n8,rounded corners=1.5pt}{ns}{340.2}{730.3}{357}{742}{}
\Bx{tb,fill=n3,text=white,rounded corners=1pt}{n1}{372.4}{712.3}{404.5}{729.7}{Topic}
\Bx{tb,fill=n2,text=white,rounded corners=1pt}{nr}{504}{718.3}{536.5}{735.3}{Topic}
\coordinate (nj1) at (429.8,739);\coordinate (nj2) at (480.3,739);
\begin{pgfonlayer}{conn}
\SqBr{g6,semithick}{364.7}{368.5}{712.3}{745}{361}{736}
\draw[nl,semithick] \hvc{n1.east}{nj1}; \draw[nl,semithick] \hvc{nr.west}{nj2};
\Rel{g8,dsh,arw}{n1.north east}{nr.north west}{13}
\end{pgfonlayer}

\Bx{fill=pink,rounded corners=1.5pt}{os}{630}{731}{647}{745}{}
\Bx{tb,fill=black,draw=ol2,text=white,rounded corners=1.5pt}{o1}{661.3}{713.3}{693.4}{730.7}{Topic}
\Bx{tb,fill=black,draw=ol2,text=white,rounded corners=1.5pt}{or}{787}{718.3}{818.8}{735.7}{Topic}
\coordinate (oj1) at (715.7,739);\coordinate (oj2) at (764.7,739);\coordinate (orel) at (695.7,710);
\begin{pgfonlayer}{conn}
\SqBr{pk2,semithick}{653.2}{657}{712.3}{745}{650}{737.3}
\draw[ol2,semithick] \hvc{o1.east}{oj1}; \draw[ol2,semithick] \hvc{or.west}{oj2};
\fill[pink] (orel) circle (2);
\Rel{pink,semithick,arw}{orel}{or.north west}{11}
\end{pgfonlayer}

% ---------- Labels
\begin{scope}
\fill[ss,rounded corners=3pt] (121.3,216) rectangle (210,240);
\node[lbltxt,font=\fontsize{14.8}{18}\selectfont] (t1) at (165.5,229) {Snowbrush};
\node[lbltxt] (t2) at (455.5,230) {经典};
\node[lbltxt] (t3) at (745,230) {经典 II};
\node[lbltxt] (t4) at (1036,230) {商务};
\node[lbltxt] (t5) at (165.5,435) {缤纷};
\node[lbltxt] (t6) at (455.5,435) {浅色};
\node[lbltxt] (t7) at (745.5,435) {清爽};
\node[lbltxt] (t8) at (1036,435) {手绘};
\node[lbltxt] (t9) at (165.5,640) {派对};
\node[lbltxt] (t10) at (455.5,640) {正式};
\node[lbltxt] (t11) at (745.5,640) {海洋};
\node[lbltxt] (t12) at (1036,640) {活力};
\end{scope}

% ---------- Window chrome
\begin{pgfonlayer}{chrome}
\fill[chr] (0,0) rectangle (1205,80.5);
\draw[rule] (0,80.5)--(1205,80.5);
\fill[chr] (0,738) rectangle (1205,810);
\draw[rule] (0,738)--(1205,738);
% scrollbar
\fill[white] (1192,81) rectangle (1204,738);
\draw[rule] (1192.5,81)--(1192.5,738);
\fill[thumb] (1193,165) rectangle (1204,287);
\draw[arrowc,semithick] (1194.5,89)--(1197.8,85.5)--(1201,89);
\draw[arrowc,semithick] (1194.5,730)--(1197.8,733.5)--(1201,730);
% header
\node[fill=pill,rounded corners=16pt,inner sep=0,minimum width=75pt,minimum height=35pt] (pillbox) at (565.5,45.5) {};
\node[inner sep=0,font=\fontsize{17}{20}\selectfont\cjk\bfseries,text=black] (tab1) at (565,46.5) {新建};
\node[inner sep=0,font=\fontsize{17}{20}\selectfont\cjk,text=g8] (tab2) at (640.5,47) {图库};
\draw[g8!80] (1171,9)--(1181.5,19.5); \draw[g8!80] (1171,19.5)--(1181.5,9);
\fill[black,opacity=.05] (1040.5,31) rectangle (1166.2,61.3);
\Bx{fill=white}{sel}{1041}{30.7}{1165.6}{60.3}{}
\node[anchor=west,inner sep=0,font=\fontsize{16}{18}\selectfont\cjk,text=black] (seltxt) at (1051,46.5) {全部};
\draw[black,line width=1.4pt] (1146.5,41.7)--(1151.3,46.8)--(1156.1,41.7);
% footer
\fill[black,opacity=.05] (31.3,760.5) rectangle (139,789.3);
\fill[black,opacity=.05] (149.1,760.5) rectangle (255.4,789.3);
\Bx{chbtn,font=\flb,text=black}{bo}{31.8}{760}{138.5}{788.3}{\raisebox{-1pt}{打开文件}}
\Bx{chbtn,font=\flb,text=black}{br2}{149.6}{760}{254.9}{788.3}{\raisebox{-1pt}{最近打开}}
\fill[black,opacity=.12] (984,760) rectangle (1074.2,790);
\Bx{fill=btn,font=\flb,text=white}{cre}{984.3}{759}{1073.8}{789}{\hspace*{-1.2pt}\raisebox{-1pt}{创建}}
\Bx{fill=white}{can}{1085}{760}{1173}{789.3}{}
\node[inner sep=0,font=\fontsize{24}{26}\wmfont] (wm) at (1118.5,778.5) {\special{pdf:bcolor [1 1 1] [0.25 0.25 0.25]}易坊好文馆\special{pdf:ecolor}};
% window border
\draw[win,line width=1.2pt] (.6,.6) rectangle (1204.4,809.4);
\end{pgfonlayer}
\end{tikzpicture}
\end{document}
